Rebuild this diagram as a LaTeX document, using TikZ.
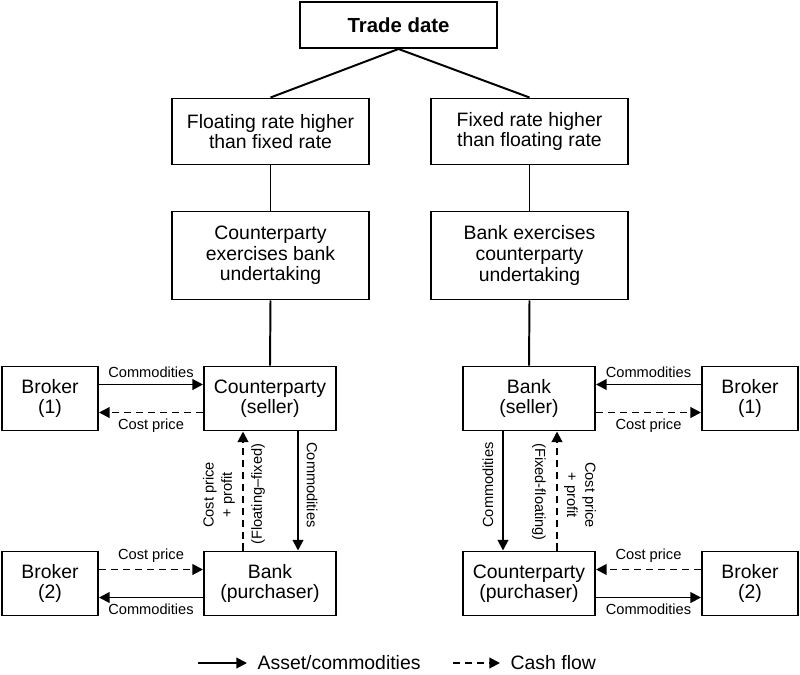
\documentclass[tikz,border=0pt]{standalone}
\usepackage{fontspec}
\setmainfont{Liberation Sans}
\usetikzlibrary{arrows.meta}

\begin{document}
\begin{tikzpicture}[x=0.025cm, y=-0.025cm,
    every node/.style={align=center, inner sep=1pt},
    box/.style={draw, line width=1.4pt, font=\fontsize{13.8}{14.6}\selectfont},
    wide/.style={box, minimum width=4.9cm},
    mid/.style={box, minimum width=3.3cm, minimum height=1.6cm},
    brk/.style={box, minimum width=2.4cm, minimum height=1.6cm},
    lbl/.style={font=\fontsize{10.4}{13}\selectfont},
    leg/.style={font=\fontsize{13.8}{14.6}\selectfont, anchor=west},
    asset/.style={line width=1.4pt, -{Triangle[length=7.5pt,width=7.5pt]}},
    cash/.style={asset, dash pattern=on 5pt off 3.5pt}]
    \useasboundingbox (0,0) rectangle (800,675);

    % top of the tree
    \node[wide, minimum height=1.15cm, font=\fontsize{14.5}{15}\selectfont\bfseries] (trade) at (398.5, 25) {Trade date};
    \node[wide, minimum height=1.65cm] (float) at (270.5, 131.5) {Floating rate higher\\than fixed rate};
    \node[wide, minimum height=1.65cm] (fixed) at (529.5, 131.5) {Fixed rate higher\\than floating rate};
    \node[wide, minimum height=2.2cm]  (cpex)  at (270.5, 255.5) {Counterparty\\exercises bank\\undertaking};
    \node[wide, minimum height=2.2cm]  (bkex)  at (529.5, 255.5) {Bank exercises\\counterparty\\undertaking};
    \draw[line width=1.4pt] (trade.south) -- (float.north);
    \draw[line width=1.4pt] (trade.south) -- (fixed.north);
    \draw[line width=1.4pt] (float) -- (cpex);
    \draw[line width=1.4pt] (fixed) -- (bkex);

    % left branch
    \node[brk] (brkA) at ( 50, 398.5) {Broker\\(1)};
    \node[mid] (cpS)  at (270, 398.5) {Counterparty\\(seller)};
    \node[brk] (brkB) at ( 50, 583.5) {Broker\\(2)};
    \node[mid] (bkP)  at (270, 583.5) {Bank\\(purchaser)};
    \draw[line width=1.4pt] (cpex.south) -- (cpS.north);
    \draw[asset] ([yshift=3.5mm]brkA.east) -- node[lbl, above=3pt] {Commodities} ([yshift=3.5mm]cpS.west);
    \draw[cash] ([yshift=-3.5mm]cpS.west) -- node[lbl, below=3pt] {Cost price} ([yshift=-3.5mm]brkA.east);
    \draw[cash] ([yshift=3.5mm]brkB.east) -- node[lbl, above=3pt] {Cost price} ([yshift=3.5mm]bkP.west);
    \draw[asset] ([yshift=-3.5mm]bkP.west) -- node[lbl, below=3pt] {Commodities} ([yshift=-3.5mm]brkB.east);
    \draw[cash] ([xshift=-6.75mm]bkP.north) -- ([xshift=-6.75mm]cpS.south);
    \draw[asset] ([xshift=7mm]cpS.south) -- ([xshift=7mm]bkP.north);
    \node[lbl, rotate=90]  (cpfL) at (219, 495) {Cost price\\+ profit};
    \node[lbl, rotate=90]  (flfx) at (258, 494) {(Floating--fixed)};
    \node[lbl, rotate=-90] (comL) at (312, 485) {Commodities};

    % right branch
    \node[mid] (bkS)  at (529, 398.5) {Bank\\(seller)};
    \node[brk] (brkC) at (750, 398.5) {Broker\\(1)};
    \node[mid] (cpP)  at (529, 583.5) {Counterparty\\(purchaser)};
    \node[brk] (brkD) at (750, 583.5) {Broker\\(2)};
    \draw[line width=1.4pt] (bkex.south) -- (bkS.north);
    \draw[asset] ([yshift=3.5mm]brkC.west) -- node[lbl, above=3pt] {Commodities} ([yshift=3.5mm]bkS.east);
    \draw[cash] ([yshift=-3.5mm]bkS.east) -- node[lbl, below=3pt] {Cost price} ([yshift=-3.5mm]brkC.west);
    \draw[cash] ([yshift=3.5mm]brkD.west) -- node[lbl, above=3pt] {Cost price} ([yshift=3.5mm]cpP.east);
    \draw[asset] ([yshift=-3.5mm]cpP.east) -- node[lbl, below=3pt] {Commodities} ([yshift=-3.5mm]brkD.west);
    \draw[asset] ([xshift=-6.5mm]bkS.south) -- ([xshift=-6.5mm]cpP.north);
    \draw[cash] ([xshift=7mm]cpP.north) -- ([xshift=7mm]bkS.south);
    \node[lbl, rotate=90]  (comR) at (488, 485) {Commodities};
    \node[lbl, rotate=-90] (fxfl) at (539, 492) {(Fixed-floating)};
    \node[lbl, rotate=-90] (cpfR) at (580, 495) {Cost price\\+ profit};

    % legend
    \coordinate (la0) at (198, 663);
    \coordinate (la1) at (247, 663);
    \coordinate (lc0) at (453, 663);
    \coordinate (lc1) at (500, 663);
    \draw[asset] (la0) -- (la1);
    \draw[cash] (lc0) -- (lc1);
    \node[leg] (lat) at (256, 663) {Asset/commodities};
    \node[leg] (lct) at (509, 663) {Cash flow};
\end{tikzpicture}
\end{document}
